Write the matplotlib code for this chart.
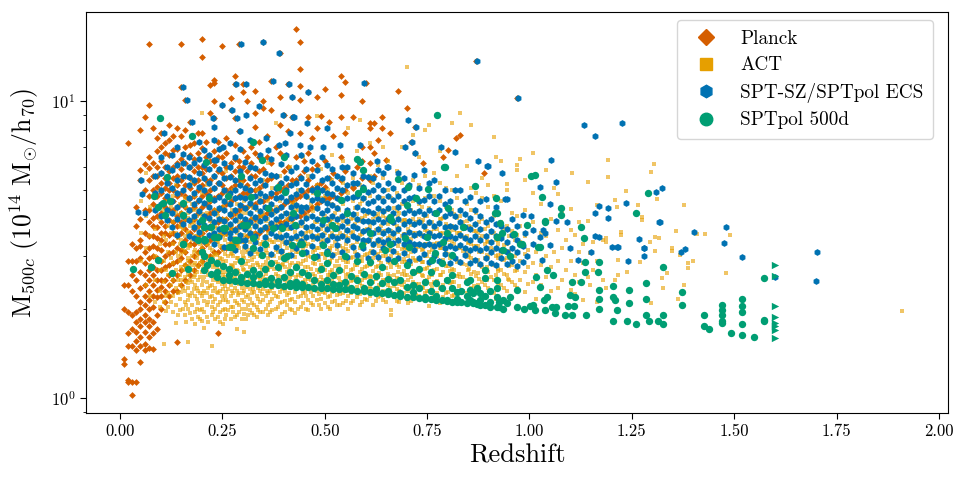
import numpy as np
import matplotlib
matplotlib.use("Agg")
import matplotlib.pyplot as plt
from matplotlib.lines import Line2D
from matplotlib.ticker import NullFormatter

plt.rcParams["font.family"] = "serif"
plt.rcParams["font.serif"] = ["cmr10"]
plt.rcParams["mathtext.fontset"] = "cm"
plt.rcParams["axes.unicode_minus"] = False
plt.rcParams["axes.formatter.use_mathtext"] = True

# =====================================
# Data: (redshift, [M500c values])
# =====================================

planck_cols = [
    (0.01, [1.3, 1.35, 2.0, 2.4]),
    (0.02, [1.13, 1.15, 1.5, 1.65, 1.95, 2.4, 2.9, 7.2]),
    (0.03, [1.02, 1.13, 1.5, 1.7, 1.9, 2.3, 2.6, 2.9, 3.3]),
    (0.04, [1.13, 1.45, 1.55, 1.67, 1.8, 1.95, 2.2, 2.5, 2.9, 3.2, 3.8, 4.4]),
    (0.05, [1.32, 1.5, 1.6, 1.75, 1.85, 2.0, 2.1, 2.35, 2.65, 2.95, 3.25, 3.4, 4.0, 5.4, 5.85, 8.0]),
    (0.06, [1.45, 1.52, 1.67, 1.8, 1.9, 2.05, 2.2, 2.4, 2.6, 2.85, 3.1, 3.6, 4.3, 5.0, 6.15, 8.8]),
    (0.07, [1.47, 1.6, 1.74, 1.85, 2.0, 2.14, 2.3, 2.5, 2.7, 2.95, 3.2, 3.5, 3.9, 4.3, 4.8, 5.4, 5.93, 6.5, 9.7, 15.5]),
    (0.08, [1.46, 1.65, 1.8, 2.03, 2.2, 2.4, 2.6, 2.77, 3.0, 3.25, 3.5, 3.8, 4.02, 4.5, 5.0, 5.6, 6.2, 8.1]),
    (0.09, [1.7, 1.9, 2.19, 2.31, 2.5, 2.7, 2.95, 3.2, 3.45, 3.77, 4.1, 4.4, 4.8, 5.15, 5.6, 6.0, 6.8, 7.5]),
    (0.10, [2.0, 2.2, 2.37, 2.49, 2.7, 2.9, 3.15, 3.4, 3.6, 3.9, 4.18, 4.5, 4.9, 5.3, 5.7, 6.3, 7.0, 7.8]),
    (0.11, [2.1, 2.3, 2.5, 2.77, 3.0, 3.3, 3.6, 3.8, 4.1, 4.4, 4.7, 5.1, 5.5, 6.0, 6.7, 7.2]),
    (0.12, [2.2, 2.4, 2.6, 2.8, 3.07, 3.3, 3.55, 3.97, 4.3, 4.6, 5.0, 5.28, 5.8, 6.6, 7.4, 8.3]),
    (0.13, [2.3, 2.5, 2.84, 3.1, 3.36, 3.6, 3.9, 4.3, 4.6, 5.0, 5.5, 6.0, 6.85, 7.6]),
    (0.14, [1.54, 2.3, 2.6, 2.9, 3.2, 3.5, 3.8, 4.1, 4.4, 4.8, 5.2, 5.6, 6.2, 6.9, 8.1]),
    (0.15, [2.4, 2.7, 2.95, 3.15, 3.59, 3.9, 4.18, 4.5, 4.9, 5.4, 5.9, 6.4, 7.6, 11.1, 15.5]),
    (0.16, [2.5, 2.8, 3.1, 3.4, 3.7, 4.0, 4.4, 4.8, 5.2, 5.6, 6.2, 7.0, 8.0, 10.1]),
    (0.17, [2.6, 2.9, 3.31, 3.6, 3.93, 4.3, 4.7, 5.1, 5.5, 6.0, 6.6, 7.1, 8.5]),
    (0.18, [2.7, 3.0, 3.3, 3.7, 4.0, 4.4, 4.8, 5.28, 5.8, 6.4, 7.2]),
    (0.19, [2.8, 3.1, 3.5, 3.8, 4.2, 4.6, 5.0, 5.4, 6.0, 6.7, 7.8]),
    (0.20, [2.9, 3.2, 3.6, 4.0, 4.4, 4.8, 5.2, 5.7, 6.0, 6.96, 7.8, 14.1, 16.2]),
    (0.21, [3.0, 3.3, 3.7, 4.1, 4.5, 4.9, 5.4, 5.9, 6.5, 7.3]),
    (0.22, [3.0, 3.4, 3.8, 4.2, 4.6, 5.0, 5.4, 6.3, 9.1, 11.3]),
    (0.23, [3.1, 3.5, 3.9, 4.3, 4.7, 5.1, 5.6, 6.1, 6.8, 8.76, 9.96, 11.5, 11.8]),
    (0.24, [1.66, 3.1, 3.5, 3.9, 4.3, 4.8, 5.3, 5.8, 6.5, 7.3]),
    (0.25, [3.2, 3.6, 4.0, 4.4, 4.9, 5.2, 5.7, 6.5, 7.0, 9.7, 15.3]),
    (0.26, [3.2, 3.6, 4.0, 4.5, 5.0, 5.5, 6.0, 6.7, 7.5]),
    (0.27, [3.3, 3.7, 4.1, 4.6, 5.1, 5.6, 6.2, 9.3, 10.2]),
    (0.28, [3.3, 3.7, 4.2, 4.7, 5.2, 5.8, 6.4, 7.1, 8.76, 11.4, 12.1]),
    (0.29, [3.4, 3.8, 4.3, 4.8, 5.4, 6.0, 6.3, 7.9, 15.5]),
    (0.30, [3.4, 3.9, 4.4, 4.9, 5.4, 6.0, 6.8, 10.7, 11.4]),
    (0.31, [3.5, 3.9, 4.4, 4.9, 5.2, 5.8, 6.5, 9.96]),
    (0.32, [3.5, 4.0, 4.5, 5.0, 5.6, 6.2, 7.0]),
    (0.33, [3.6, 4.0, 4.5, 5.0, 5.6, 6.7, 8.18, 9.1, 10.8]),
    (0.34, [3.6, 4.1, 4.6, 5.1, 5.8, 6.5, 7.3]),
    (0.35, [3.7, 4.1, 4.6, 5.2, 5.9, 9.5, 9.96, 15.8]),
    (0.36, [3.7, 4.2, 4.7, 5.4, 6.5, 7.6]),
    (0.37, [3.8, 4.3, 4.8, 5.5, 6.2, 9.3, 11.7]),
    (0.38, [3.8, 4.3, 4.9, 5.6, 7.0]),
    (0.39, [3.9, 4.4, 5.0, 5.28, 6.7, 8.3, 10.3, 14.5]),
    (0.40, [3.9, 4.5, 5.1, 5.8, 8.97]),
    (0.41, [4.0, 4.6, 5.2, 6.0, 7.9, 11.4]),
    (0.42, [4.0, 4.6, 5.4, 8.84, 10.3]),
    (0.43, [4.1, 4.7, 5.4, 6.5, 17.4]),
    (0.44, [4.1, 4.8, 5.6, 7.8, 10.1, 11.2, 12.8, 15.8]),
    (0.45, [4.2, 4.9, 5.8, 6.3]),
    (0.46, [4.3, 5.0, 5.4, 6.7, 8.84, 10.7]),
    (0.47, [4.4, 5.1, 5.9, 7.5]),
    (0.48, [4.5, 5.2, 6.1, 8.1, 10.3]),
    (0.49, [4.6, 5.3, 8.88]),
    (0.50, [4.7, 5.15, 6.3, 11.0]),
    (0.51, [4.7, 5.5, 8.5]),
    (0.52, [4.8, 5.7, 7.6]),
    (0.54, [4.9, 5.4, 6.5, 8.84, 10.5, 12.1]),
    (0.55, [5.0, 5.8, 7.8, 11.6]),
    (0.57, [5.1, 5.15, 8.84]),
    (0.58, [5.3, 6.0]),
    (0.59, [5.5, 6.3, 7.0, 10.0]),
    (0.60, [11.5]),
    (0.61, [5.4, 6.2, 7.0, 8.1, 8.4]),
    (0.62, [5.6, 6.7, 8.45]),
    (0.63, [7.4]),
    (0.64, [8.84, 8.09]),
    (0.65, [6.32]),
    (0.66, [7.8]),
    (0.68, [10.8]),
    (0.70, [9.5]),
    (0.71, [7.25]),
    (0.72, [8.18, 6.68]),
    (0.74, [6.17]),
    (0.79, [6.5]),
    (0.80, [6.86]),
    (0.82, [7.5]),
    (0.83, [7.66]),
    (0.87, [13.6]),
    (0.89, [5.7]),
    (0.97, [10.2]),
]

act_cols = [
    (0.052, [2.9, 3.6, 4.6]),
    (0.063, [2.4, 3.2, 4.1, 5.7]),
    (0.074, [2.2, 2.8, 3.5, 4.4]),
    (0.086, [2.1, 2.5, 3.0, 3.7, 4.7]),
    (0.098, [2.03, 2.3, 2.7, 3.3, 4.0, 5.0]),
    (0.107, [1.52, 2.1, 2.45, 2.9, 3.5, 4.3]),
    (0.118, [2.03, 2.25, 2.6, 3.1, 3.8, 4.6, 5.5]),
    (0.129, [1.95, 2.2, 2.5, 2.85, 3.3, 3.9, 4.8]),
    (0.137, [1.79, 2.05, 2.35, 2.7, 3.1, 3.6, 4.2, 5.2]),
    (0.147, [1.98, 2.15, 2.4, 2.6, 2.9, 3.3, 3.8, 4.5]),
    (0.158, [1.9, 2.1, 2.3, 2.55, 2.8, 3.1, 3.5, 4.0, 4.7, 5.6]),
    (0.167, [1.54, 2.0, 2.14, 2.35, 2.6, 2.9, 3.2, 3.6, 4.2]),
    (0.176, [1.85, 2.05, 2.25, 2.45, 2.7, 3.0, 3.4, 3.9, 4.5, 5.3]),
    (0.183, [1.77, 1.95, 2.2, 2.4, 2.6, 2.85, 3.15, 3.5, 4.0, 4.8]),
    (0.191, [1.88, 2.08, 2.3, 2.5, 2.75, 3.05, 3.35, 3.75, 4.3]),
    (0.200, [1.82, 2.0, 2.2, 2.4, 2.65, 2.9, 3.2, 3.6, 4.1, 4.9, 9.1]),
    (0.206, [1.72, 1.95, 2.12, 2.3, 2.55, 2.8, 3.1, 3.45, 3.9, 4.5]),
    (0.212, [1.88, 2.05, 2.25, 2.45, 2.7, 3.0, 3.3, 3.7, 4.2, 5.2]),
    (0.224, [1.5, 1.9, 2.03, 2.2, 2.4, 2.6, 2.85, 3.15, 3.5, 3.95, 4.6]),
    (0.233, [1.85, 2.0, 2.15, 2.35, 2.55, 2.8, 3.05, 3.4, 3.8, 4.3, 5.5]),
    (0.245, [1.8, 1.95, 2.1, 2.3, 2.5, 2.7, 2.95, 3.25, 3.6, 4.0, 4.7]),
    (0.252, [1.78, 1.98, 2.14, 2.33, 2.6, 2.88, 3.15, 3.5, 3.9, 4.4]),
    (0.260, [1.9, 2.14, 2.28, 2.45, 2.65, 2.9, 3.2, 3.55, 4.0, 4.6, 5.8]),
    (0.270, [1.85, 2.03, 2.2, 2.4, 2.6, 2.8, 3.05, 3.35, 3.7, 4.1, 4.8]),
    (0.277, [1.95, 2.03, 2.25, 2.5, 2.75, 3.0, 3.3, 3.65, 4.2, 5.0]),
    (0.285, [1.71, 1.9, 2.08, 2.3, 2.5, 2.7, 2.95, 3.25, 3.6, 4.0, 4.5]),
    (0.297, [1.84, 2.0, 2.14, 2.35, 2.55, 2.8, 3.1, 3.4, 3.75, 4.2, 5.3]),
    (0.304, [1.67, 1.92, 2.1, 2.3, 2.5, 2.7, 2.95, 3.2, 3.55, 3.95, 4.6]),
    (0.313, [1.9, 2.05, 2.22, 2.42, 2.65, 2.9, 3.15, 3.5, 3.9, 4.4, 5.1]),
    (0.322, [1.93, 2.08, 2.25, 2.45, 2.68, 2.92, 3.2, 3.55, 4.0, 4.8, 6.0]),
    (0.334, [1.88, 2.02, 2.2, 2.4, 2.6, 2.85, 3.1, 3.4, 3.8, 4.3, 5.0]),
    (0.343, [1.95, 2.1, 2.3, 2.5, 2.75, 3.0, 3.3, 3.65, 4.1, 4.7]),
    (0.350, [1.95, 2.14, 2.32, 2.55, 2.8, 3.05, 3.35, 3.7, 4.2, 5.4]),
    (0.361, [1.9, 2.06, 2.25, 2.45, 2.7, 2.95, 3.25, 3.6, 4.0, 4.6, 6.2]),
    (0.372, [1.98, 2.15, 2.35, 2.55, 2.8, 3.05, 3.35, 3.75, 4.2, 5.1]),
    (0.380, [2.0, 2.2, 2.4, 2.62, 2.88, 3.15, 3.45, 3.85, 4.4, 8.45]),
    (0.391, [1.88, 2.08, 2.28, 2.48, 2.7, 2.95, 3.25, 3.6, 4.0, 4.6, 5.6]),
    (0.402, [1.95, 2.12, 2.3, 2.5, 2.75, 3.0, 3.3, 3.7, 4.2, 4.9]),
    (0.415, [2.0, 2.14, 2.35, 2.55, 2.8, 3.05, 3.35, 3.7, 4.1, 4.7, 6.0]),
    (0.427, [1.93, 2.1, 2.28, 2.48, 2.72, 2.98, 3.28, 3.62, 4.05, 4.55, 5.3]),
    (0.436, [2.0, 2.18, 2.4, 2.6, 2.85, 3.1, 3.4, 3.8, 4.3, 5.0]),
    (0.448, [2.08, 2.25, 2.45, 2.65, 2.9, 3.2, 3.5, 3.9, 4.4, 6.45]),
    (0.460, [1.98, 2.14, 2.32, 2.52, 2.75, 3.0, 3.3, 3.65, 4.1, 4.7, 5.6]),
    (0.472, [2.05, 2.2, 2.4, 2.62, 2.85, 3.1, 3.4, 3.8, 4.25, 4.9]),
    (0.480, [2.14, 2.3, 2.5, 2.7, 2.95, 3.2, 3.5, 3.9, 4.4, 5.2, 8.88]),
    (0.492, [2.0, 2.16, 2.35, 2.55, 2.8, 3.05, 3.35, 3.7, 4.15, 4.7, 5.9]),
    (0.509, [2.03, 2.18, 2.38, 2.6, 2.85, 3.1, 3.4, 3.8, 4.3, 5.0]),
    (0.518, [2.1, 2.28, 2.48, 2.7, 2.95, 3.25, 3.6, 4.0, 4.5, 5.4, 6.6]),
    (0.530, [2.05, 2.22, 2.42, 2.64, 2.9, 3.18, 3.5, 3.9, 4.4, 5.0]),
    (0.545, [2.08, 2.25, 2.45, 2.68, 2.92, 3.2, 3.55, 3.95, 4.5, 5.3, 6.3]),
    (0.558, [2.0, 2.2, 2.4, 2.62, 2.86, 3.12, 3.45, 3.85, 4.3, 4.9, 8.12]),
    (0.570, [2.12, 2.3, 2.5, 2.72, 2.98, 3.28, 3.62, 4.05, 4.6, 5.5]),
    (0.578, [2.19, 2.36, 2.56, 2.8, 3.05, 3.35, 3.7, 4.15, 4.8, 6.8]),
    (0.586, [2.06, 2.24, 2.44, 2.66, 2.9, 3.2, 3.55, 3.95, 4.5, 5.2, 8.6]),
    (0.598, [2.15, 2.33, 2.53, 2.76, 3.02, 3.32, 3.68, 4.1, 4.7, 5.8]),
    (0.610, [2.2, 2.38, 2.58, 2.8, 3.08, 3.4, 3.75, 4.2, 4.8, 5.6, 7.2]),
    (0.619, [2.06, 2.25, 2.45, 2.68, 2.95, 3.25, 3.6, 4.0, 4.6, 5.3]),
    (0.631, [2.18, 2.35, 2.55, 2.78, 3.05, 3.35, 3.7, 4.15, 4.75, 6.1]),
    (0.643, [2.14, 2.3, 2.5, 2.74, 3.0, 3.3, 3.65, 4.1, 4.7, 5.5, 7.0]),
    (0.655, [2.2, 2.4, 2.62, 2.86, 3.14, 3.45, 3.85, 4.3, 5.0, 6.3]),
    (0.663, [1.9, 1.98, 2.25, 2.5, 2.75, 3.0, 3.3, 3.65, 4.1, 4.7]),
    (0.676, [2.12, 2.32, 2.54, 2.8, 3.08, 3.4, 3.8, 4.25, 4.9, 5.8]),
    (0.688, [2.2, 2.4, 2.62, 2.88, 3.18, 3.52, 3.95, 4.5, 5.3, 7.0]),
    (0.700, [2.15, 2.36, 2.6, 2.86, 3.15, 3.5, 3.9, 4.4, 5.1, 13.0]),
    (0.704, [2.08, 2.3, 2.5, 2.75, 3.0, 3.3, 3.7]),
    (0.716, [2.25, 2.45, 2.68, 2.95, 3.25, 3.6, 4.0, 4.6, 5.4, 7.66]),
    (0.731, [2.2, 2.42, 2.66, 2.92, 3.22, 3.58, 4.0, 4.5, 5.2, 6.5]),
    (0.745, [2.25, 2.48, 2.72, 3.0, 3.3, 3.68, 4.1, 4.7, 5.6, 7.97]),
    (0.755, [2.04, 2.3, 2.55, 2.8, 3.1, 3.45, 3.85, 4.35, 5.0, 8.29]),
    (0.768, [2.2, 2.45, 2.7, 2.98, 3.3, 3.7, 4.15, 4.8, 5.7]),
    (0.781, [2.08, 2.35, 2.6, 2.88, 3.2, 3.6, 4.0, 4.6, 5.3, 6.8]),
    (0.795, [2.25, 2.5, 2.78, 3.1, 3.45, 3.85, 4.4, 5.1]),
    (0.810, [2.2, 2.45, 2.72, 3.02, 3.38, 3.8, 4.3, 5.0, 8.4]),
    (0.822, [2.3, 2.58, 2.88, 3.2, 3.6, 4.05, 4.7, 5.6]),
    (0.830, [2.28, 2.55, 2.85, 3.2, 3.6, 4.1, 9.13]),
    (0.847, [2.25, 2.5, 2.8, 3.12, 3.5, 3.95, 4.5, 6.05]),
    (0.857, [2.35, 2.62, 2.95, 3.3, 3.75, 4.3, 5.1, 8.28]),
    (0.870, [2.3, 2.58, 2.9, 3.25, 3.65, 4.2, 4.9]),
    (0.885, [2.2, 2.45, 2.75, 3.1, 3.5, 4.0, 4.7, 5.5]),
    (0.898, [2.35, 2.65, 2.98, 3.35, 3.8, 4.4, 5.2]),
    (0.913, [2.25, 2.5, 2.8, 3.15, 3.6, 4.1, 4.8, 7.55]),
    (0.918, [2.16, 2.6, 3.0, 3.4, 6.5]),
    (0.930, [2.4, 2.7, 3.05, 3.45, 3.9, 4.6, 6.3]),
    (0.944, [2.3, 2.6, 2.95, 3.3, 3.8, 5.02, 5.25]),
    (0.958, [2.45, 2.8, 3.2, 3.65, 4.2]),
    (0.969, [2.35, 2.7, 3.1, 3.55, 4.1, 5.85, 6.09]),
    (0.978, [2.5, 2.9, 3.35, 3.8, 6.36]),
    (0.989, [2.28, 2.65, 3.05, 3.5, 4.3, 5.43]),
    (1.009, [2.45, 2.85, 3.3, 3.9, 4.89, 6.7]),
    (1.017, [2.16, 2.6, 3.1]),
    (1.028, [2.4, 2.8, 3.6, 4.5]),
    (1.040, [2.55, 3.0, 3.5, 5.85]),
    (1.052, [2.3, 2.75, 3.25, 4.0]),
    (1.060, [2.6, 3.1, 5.08]),
    (1.070, [2.35, 2.9, 3.68, 4.86]),
    (1.080, [2.5, 3.2, 4.2]),
    (1.090, [2.7, 3.4]),
    (1.101, [2.31, 2.9, 3.68, 4.34]),
    (1.104, [5.74]),
    (1.111, [2.23, 2.6, 3.53]),
    (1.120, [2.45, 3.1, 3.9]),
    (1.131, [2.14, 2.84, 3.31]),
    (1.142, [2.55, 3.93, 5.32]),
    (1.148, [2.4, 3.07]),
    (1.154, [2.7, 3.34]),
    (1.164, [2.11, 2.9, 4.46]),
    (1.180, [2.5, 3.4]),
    (1.188, [2.35, 3.36, 3.45]),
    (1.191, [6.32]),
    (1.193, [5.56]),
    (1.209, [2.49, 4.64]),
    (1.214, [4.41]),
    (1.217, [2.59, 2.92]),
    (1.223, [3.55, 3.63]),
    (1.235, [4.98]),
    (1.237, [2.66]),
    (1.266, [4.46]),
    (1.270, [2.88]),
    (1.275, [3.97, 4.06]),
    (1.294, [3.36]),
    (1.296, [2.08, 5.77]),
    (1.305, [6.13]),
    (1.306, [3.12]),
    (1.307, [3.49]),
    (1.312, [4.68]),
    (1.317, [3.45]),
    (1.323, [2.53]),
    (1.325, [2.34]),
    (1.337, [2.63]),
    (1.348, [3.12, 3.19]),
    (1.357, [3.65]),
    (1.363, [2.16]),
    (1.367, [3.03]),
    (1.377, [2.4, 4.48]),
    (1.388, [2.73, 2.84]),
    (1.400, [2.89]),
    (1.408, [3.57]),
    (1.429, [3.57]),
    (1.481, [2.63]),
    (1.490, [3.55]),
    (1.910, [1.96]),
]

# second and third passes over the dense ACT core, between the columns above
act_fill_cols = [
    (0.112, [1.96, 2.2, 2.7, 3.4]),
    (0.124, [2.1, 2.4, 2.95, 3.6, 4.4]),
    (0.142, [1.9, 2.25, 2.5, 3.0, 3.45, 4.0]),
    (0.153, [2.0, 2.35, 2.7, 3.2, 3.7]),
    (0.162, [1.8, 2.05, 2.45, 2.75, 3.3, 4.4]),
    (0.172, [1.93, 2.2, 2.5, 2.8, 3.25, 3.8]),
    (0.187, [2.0, 2.15, 2.35, 2.65, 2.95, 3.5, 4.1]),
    (0.196, [1.84, 1.98, 2.25, 2.55, 2.85, 3.3, 3.9]),
    (0.216, [1.8, 2.1, 2.35, 2.6, 2.9, 3.3, 4.0]),
    (0.228, [1.95, 2.1, 2.3, 2.5, 2.75, 3.0, 3.6]),
    (0.239, [1.88, 2.05, 2.25, 2.45, 2.65, 2.9, 3.35, 4.1]),
    (0.257, [1.85, 2.0, 2.2, 2.38, 2.55, 2.78, 3.05, 3.4]),
    (0.265, [1.98, 2.1, 2.32, 2.52, 2.72, 3.0, 3.3, 3.8]),
    (0.281, [1.88, 2.12, 2.35, 2.55, 2.85, 3.15, 3.45]),
    (0.291, [1.95, 2.05, 2.25, 2.42, 2.62, 2.9, 3.2, 3.9]),
    (0.308, [1.85, 2.0, 2.18, 2.36, 2.58, 2.82, 3.1, 3.45, 4.2]),
    (0.318, [1.97, 2.15, 2.32, 2.52, 2.76, 3.0, 3.35, 3.7]),
    (0.328, [1.9, 2.05, 2.28, 2.5, 2.72, 2.98, 3.25, 3.6, 4.4]),
    (0.338, [1.98, 2.15, 2.35, 2.55, 2.8, 3.05, 3.45, 3.9]),
    (0.356, [2.0, 2.2, 2.4, 2.62, 2.86, 3.15, 3.5, 3.95]),
    (0.366, [1.95, 2.1, 2.3, 2.52, 2.76, 3.0, 3.4, 3.85]),
    (0.386, [2.02, 2.18, 2.38, 2.58, 2.82, 3.1, 3.4, 3.8, 4.3]),
    (0.396, [1.92, 2.1, 2.32, 2.55, 2.8, 3.05, 3.35, 3.75]),
    (0.409, [2.05, 2.22, 2.42, 2.65, 2.9, 3.2, 3.55, 4.0]),
    (0.421, [1.98, 2.16, 2.38, 2.6, 2.85, 3.15, 3.45, 3.9, 4.5]),
    (0.442, [2.02, 2.2, 2.38, 2.58, 2.82, 3.08, 3.4, 3.8, 4.2]),
    (0.454, [2.0, 2.2, 2.42, 2.65, 2.92, 3.25, 3.6, 4.0]),
    (0.466, [2.08, 2.28, 2.5, 2.72, 2.98, 3.28, 3.62, 4.5]),
    (0.486, [2.05, 2.24, 2.45, 2.66, 2.92, 3.2, 3.55, 4.0]),
    (0.500, [2.08, 2.26, 2.46, 2.7, 2.96, 3.25, 3.6, 4.1, 4.8]),
    (0.513, [2.0, 2.2, 2.42, 2.65, 2.9, 3.2, 3.5, 3.95]),
    (0.524, [2.12, 2.32, 2.55, 2.78, 3.05, 3.35, 3.72, 4.2]),
    (0.537, [2.05, 2.24, 2.45, 2.7, 2.96, 3.25, 3.6, 4.05, 4.7]),
    (0.551, [2.12, 2.3, 2.52, 2.75, 3.0, 3.3, 3.65, 4.1]),
    (0.564, [2.08, 2.26, 2.48, 2.7, 2.95, 3.25, 3.6, 4.0]),
    (0.592, [2.1, 2.28, 2.5, 2.72, 2.98, 3.28, 3.62, 4.05, 4.6]),
    (0.604, [2.14, 2.32, 2.55, 2.78, 3.05, 3.35, 3.7, 4.15]),
    (0.625, [2.12, 2.3, 2.52, 2.75, 3.02, 3.32, 3.68, 4.1]),
    (0.637, [2.2, 2.4, 2.6, 2.84, 3.12, 3.42, 3.8, 4.3]),
    (0.649, [2.1, 2.28, 2.5, 2.74, 3.0, 3.3, 3.65, 4.05]),
    (0.669, [2.18, 2.38, 2.6, 2.85, 3.12, 3.45, 3.85, 4.35]),
    (0.682, [2.1, 2.3, 2.52, 2.76, 3.04, 3.35, 3.72, 4.2]),
    (0.694, [2.25, 2.45, 2.68, 2.94, 3.22, 3.56, 3.98]),
    (0.710, [2.12, 2.34, 2.56, 2.82, 3.1, 3.42, 3.82, 4.3]),
    (0.724, [2.22, 2.42, 2.65, 2.9, 3.18, 3.52, 3.92]),
    (0.738, [2.15, 2.36, 2.6, 2.86, 3.15, 3.5, 3.9, 4.4]),
    (0.750, [2.3, 2.5, 2.74, 3.0, 3.3, 3.66, 4.1]),
    (0.762, [2.12, 2.35, 2.6, 2.86, 3.16, 3.5, 3.92]),
    (0.775, [2.25, 2.48, 2.72, 3.0, 3.32, 3.7, 4.2]),
    (0.788, [2.18, 2.4, 2.65, 2.92, 3.24, 3.6, 4.05]),
    (0.802, [2.28, 2.52, 2.78, 3.06, 3.4, 3.8]),
    (0.816, [2.22, 2.45, 2.7, 2.98, 3.3, 3.68, 4.15]),
    (0.838, [2.3, 2.55, 2.82, 3.12, 3.48, 3.9]),
    (0.852, [2.22, 2.45, 2.72, 3.02, 3.36, 3.78]),
    (0.864, [2.38, 2.65, 2.92, 3.25, 3.65]),
    (0.878, [2.28, 2.52, 2.8, 3.1, 3.45, 3.9]),
    (0.892, [2.4, 2.66, 2.95, 3.3, 3.7]),
    (0.906, [2.3, 2.55, 2.85, 3.2, 3.6]),
    (0.924, [2.45, 2.72, 3.02, 3.4]),
    (0.937, [2.35, 2.62, 2.92, 3.28, 3.7]),
    (0.951, [2.5, 2.78, 3.1, 3.5]),
    (0.964, [2.4, 2.68, 3.0, 3.4]),
    (0.996, [2.42, 2.75, 3.15]),
    (0.150, [2.28, 2.5, 2.75, 3.05, 3.4, 3.75, 4.2]),
    (0.165, [2.22, 2.44, 2.68, 2.96, 3.28, 3.62, 4.05, 4.6]),
    (0.180, [2.32, 2.55, 2.8, 3.1, 3.45, 3.85, 4.3]),
    (0.203, [2.26, 2.48, 2.72, 3.0, 3.32, 3.7, 4.15]),
    (0.219, [2.18, 2.38, 2.62, 2.9, 3.2, 3.55, 3.95, 4.4]),
    (0.236, [2.28, 2.5, 2.74, 3.02, 3.35, 3.72, 4.2]),
    (0.249, [2.2, 2.42, 2.66, 2.94, 3.25, 3.6, 4.0]),
    (0.273, [2.3, 2.52, 2.78, 3.08, 3.42, 3.8, 4.3]),
    (0.288, [2.22, 2.44, 2.68, 2.96, 3.3, 3.68, 4.1]),
    (0.300, [2.26, 2.48, 2.72, 3.0, 3.35, 3.72]),
    (0.325, [2.32, 2.55, 2.8, 3.1, 3.45, 3.85, 4.35]),
    (0.346, [2.24, 2.46, 2.7, 2.98, 3.3, 3.68, 4.1]),
    (0.358, [2.3, 2.52, 2.78, 3.08, 3.42, 3.8]),
    (0.376, [2.26, 2.48, 2.72, 3.0, 3.34, 3.72, 4.2]),
    (0.398, [2.34, 2.56, 2.82, 3.12, 3.46, 3.86]),
    (0.412, [2.25, 2.47, 2.72, 3.0, 3.33, 3.7, 4.15]),
    (0.431, [2.32, 2.55, 2.8, 3.1, 3.44, 3.84, 4.3]),
    (0.451, [2.28, 2.5, 2.75, 3.04, 3.38, 3.76]),
    (0.476, [2.34, 2.57, 2.83, 3.14, 3.48, 3.9, 4.35]),
    (0.497, [2.28, 2.5, 2.76, 3.05, 3.4, 3.8]),
    (0.514, [2.36, 2.6, 2.86, 3.16, 3.52, 3.92]),
    (0.534, [2.3, 2.53, 2.79, 3.08, 3.43, 3.82, 4.3]),
    (0.553, [2.36, 2.6, 2.86, 3.17, 3.52, 3.94]),
    (0.574, [2.3, 2.54, 2.8, 3.1, 3.45, 3.85, 4.35]),
    (0.590, [2.38, 2.62, 2.9, 3.2, 3.56, 3.98]),
    (0.614, [2.32, 2.56, 2.82, 3.12, 3.48, 3.88]),
    (0.633, [2.4, 2.64, 2.92, 3.24, 3.6, 4.02]),
    (0.659, [2.34, 2.58, 2.85, 3.16, 3.52, 3.92]),
    (0.679, [2.42, 2.66, 2.94, 3.26, 3.62, 4.06]),
    (0.697, [2.36, 2.6, 2.88, 3.2, 3.56, 3.98]),
    (0.720, [2.4, 2.64, 2.92, 3.24, 3.6]),
    (0.741, [2.34, 2.58, 2.86, 3.18, 3.54, 3.96]),
    (0.760, [2.42, 2.66, 2.94, 3.26, 3.62]),
    (0.783, [2.36, 2.6, 2.88, 3.2, 3.56, 4.0]),
    (0.806, [2.44, 2.68, 2.96, 3.28, 3.66]),
    (0.827, [2.38, 2.62, 2.9, 3.22, 3.58]),
    (0.850, [2.46, 2.7, 2.98, 3.32]),
    (0.874, [2.4, 2.64, 2.92, 3.24, 3.6]),
    (0.897, [2.5, 2.75, 3.04, 3.38]),
    (0.922, [2.44, 2.68, 2.96, 3.3]),
    (0.948, [2.52, 2.8, 3.12]),
]

spt_cols = [
    (0.085, [4.3, 4.9, 5.6]),
    (0.100, [4.1, 4.5, 5.0, 5.7, 6.5]),
    (0.115, [3.97, 4.3, 4.8, 5.3, 6.0]),
    (0.128, [3.75, 4.2, 4.6, 5.1, 5.85, 6.6]),
    (0.140, [3.55, 4.0, 4.4, 4.9, 5.4, 6.1, 7.0]),
    (0.155, [3.85, 4.1, 4.5, 5.0, 5.6, 6.2, 6.65]),
    (0.168, [3.5, 3.97, 4.3, 4.7, 5.2, 5.56, 6.0, 6.5]),
    (0.180, [3.45, 3.77, 4.1, 4.5, 4.9, 5.4, 6.2]),
    (0.193, [3.62, 3.9, 4.25, 4.64, 5.15, 5.7, 6.4, 7.3]),
    (0.205, [3.38, 3.82, 4.1, 4.52, 5.0, 5.5, 6.1, 6.85]),
    (0.218, [3.55, 3.75, 4.05, 4.4, 4.8, 5.28, 5.9, 6.6]),
    (0.230, [3.3, 3.59, 3.9, 4.2, 4.64, 5.1, 5.6, 6.35, 7.4]),
    (0.243, [3.48, 3.7, 4.0, 4.35, 4.75, 5.28, 5.9, 6.9]),
    (0.255, [3.22, 3.65, 3.95, 4.3, 4.6, 5.0, 5.5, 6.2]),
    (0.268, [3.45, 3.6, 3.85, 4.15, 4.5, 4.9, 5.56, 6.0, 7.2]),
    (0.280, [3.15, 3.68, 3.97, 4.3, 4.7, 5.0, 5.4, 6.5]),
    (0.293, [3.4, 3.55, 3.8, 4.1, 4.45, 4.76, 5.2, 5.8, 6.9]),
    (0.305, [3.25, 3.4, 3.7, 4.0, 4.35, 4.7, 5.1, 6.25]),
    (0.318, [3.08, 3.6, 3.9, 4.2, 4.55, 5.0, 5.5, 6.0, 7.4]),
    (0.330, [3.36, 3.5, 3.8, 4.08, 4.4, 4.8, 5.3, 5.93]),
    (0.343, [3.18, 3.68, 3.95, 4.25, 4.6, 4.89, 5.4, 6.6]),
    (0.355, [3.3, 3.49, 3.75, 4.05, 4.4, 4.8, 5.2, 5.7]),
    (0.368, [3.05, 3.6, 3.87, 4.15, 4.5, 4.9, 5.63, 6.4]),
    (0.380, [3.22, 3.5, 3.75, 4.0, 4.3, 4.7, 5.1, 5.6]),
    (0.393, [3.12, 3.49, 3.8, 4.1, 4.4, 4.76, 5.3, 6.15]),
    (0.405, [3.35, 3.55, 3.85, 4.2, 4.6, 5.0, 5.5, 6.6]),
    (0.418, [3.02, 3.45, 3.75, 4.05, 4.4, 4.76, 5.2, 5.8]),
    (0.430, [3.2, 3.5, 3.8, 4.1, 4.45, 4.85, 5.3, 6.0]),
    (0.442, [3.38, 3.6, 3.9, 4.25, 4.4, 5.0, 5.5, 6.6]),
    (0.455, [3.1, 3.49, 3.75, 4.05, 4.4, 4.8, 5.25, 5.9]),
    (0.468, [3.25, 3.5, 3.8, 4.1, 4.64, 5.0, 5.6, 6.3]),
    (0.480, [3.0, 3.45, 3.7, 4.0, 4.35, 4.7, 5.1, 5.85]),
    (0.493, [3.3, 3.55, 3.85, 4.2, 4.64, 5.0, 5.4, 6.5]),
    (0.505, [3.12, 3.4, 3.7, 4.0, 4.3, 4.52, 4.9, 5.5, 6.07]),
    (0.518, [3.04, 3.5, 3.8, 4.1, 4.45, 4.85, 5.3, 5.9]),
    (0.530, [3.28, 3.45, 3.72, 4.0, 4.35, 4.7, 5.1, 5.6]),
    (0.543, [3.1, 3.5, 3.8, 4.1, 4.64, 5.0, 5.5, 6.0]),
    (0.555, [2.98, 3.4, 3.68, 3.95, 4.3, 4.7, 5.2, 6.0]),
    (0.568, [3.23, 3.5, 3.8, 4.15, 4.76, 5.3, 5.7]),
    (0.580, [3.02, 3.45, 3.72, 4.0, 4.4, 4.8, 5.3]),
    (0.593, [3.2, 3.4, 3.65, 3.95, 4.3, 4.7, 5.15, 5.6]),
    (0.605, [2.95, 3.4, 3.68, 3.95, 4.25, 4.52, 4.95, 5.56]),
    (0.618, [3.1, 3.31, 3.6, 3.9, 4.2, 4.6, 5.0, 5.5]),
    (0.630, [2.98, 3.4, 3.7, 4.0, 4.35, 4.76, 5.2, 5.85]),
    (0.643, [3.2, 3.35, 3.6, 3.9, 4.25, 4.6, 5.0, 5.7]),
    (0.655, [2.93, 3.4, 3.68, 4.0, 4.35, 4.8, 5.3, 6.0]),
    (0.668, [3.12, 3.33, 3.6, 3.9, 4.2, 4.64, 5.1]),
    (0.680, [2.96, 3.4, 3.7, 4.0, 4.4, 4.8, 5.7]),
    (0.693, [3.08, 3.3, 3.55, 3.85, 4.2, 4.6, 5.0, 5.5]),
    (0.705, [2.9, 3.35, 3.62, 3.95, 4.3, 4.7, 5.2]),
    (0.718, [3.14, 3.3, 3.55, 3.85, 4.2, 4.76, 5.63]),
    (0.730, [2.95, 3.3, 3.6, 3.9, 4.25, 4.6, 5.1]),
    (0.743, [3.05, 3.28, 3.5, 3.8, 4.15, 4.64, 5.85]),
    (0.755, [2.88, 3.3, 3.6, 3.9, 4.3, 4.8, 5.3]),
    (0.768, [3.0, 3.25, 3.5, 3.8, 4.2, 4.6, 5.4]),
    (0.780, [2.9, 3.3, 3.55, 3.88, 4.3, 4.8]),
    (0.793, [3.06, 3.2, 3.45, 3.75, 4.1, 4.5, 5.0]),
    (0.805, [2.85, 3.25, 3.5, 3.8, 4.2, 4.6]),
    (0.818, [2.95, 3.2, 3.45, 3.75, 4.1, 5.0]),
    (0.830, [2.87, 3.28, 3.55, 3.9, 4.3, 5.0]),
    (0.843, [3.02, 3.2, 3.45, 3.75, 4.15, 4.6]),
    (0.855, [2.84, 3.15, 3.4, 3.7, 4.05, 4.76]),
    (0.868, [2.92, 3.2, 3.5, 3.85, 4.3]),
    (0.880, [2.82, 3.15, 3.4, 3.7, 4.1, 4.6]),
    (0.893, [2.97, 3.2, 3.5, 3.9, 4.67]),
    (0.905, [2.85, 3.1, 3.35, 3.65, 4.0]),
    (0.918, [2.8, 3.2, 3.5, 3.85, 4.4]),
    (0.930, [2.95, 3.15, 3.45, 3.8]),
    (0.945, [2.83, 3.1, 3.35, 3.7, 4.69]),
    (0.958, [2.9, 3.2, 3.55, 4.0]),
    (0.970, [2.78, 3.1, 3.4, 3.8]),
    (0.985, [2.88, 3.25, 4.13]),
]

spt_extra = [
    (0.295, 15.5), (0.35, 15.8), (0.389, 14.5), (0.153, 11.1), (0.164, 10.1),
    (0.108, 7.8), (0.177, 8.5), (0.283, 11.4), (0.307, 11.4), (0.374, 11.7),
    (0.413, 11.4), (0.421, 10.3), (0.46, 10.7), (0.596, 11.5), (0.248, 9.7),
    (0.273, 9.3), (0.228, 8.76), (0.285, 8.76), (0.397, 8.97), (0.423, 8.84),
    (0.252, 7.0), (0.293, 7.9), (0.871, 13.6), (0.973, 10.2), (0.723, 8.18),
    (0.712, 7.25), (0.72, 6.68), (0.704, 8.6), (0.783, 7.0), (0.818, 6.74),
    (0.898, 6.04), (1.132, 8.29), (1.227, 8.45), (1.161, 7.6), (1.052, 6.33),
    (0.934, 5.74), (1.31, 4.92), (1.323, 5.08), (1.066, 5.35), (1.235, 4.52),
    (0.426, 8.84), (0.456, 8.4), (0.505, 8.1), (0.415, 7.8), (0.403, 7.2),
    (0.44, 7.1), (0.464, 7.0), (0.496, 7.0), (0.537, 7.1), (0.586, 7.1),
    (0.627, 6.3), (0.651, 6.0), (0.696, 7.0), (0.875, 6.3), (0.045, 4.24),
    (0.06, 4.2), (0.051, 5.4), (0.055, 4.86), (0.23, 8.18), (0.34, 9.6),
    (0.357, 7.5), (0.389, 7.1), (0.361, 6.85), (0.308, 8.97), (0.234, 6.35),
    (1.026, 5.13), (1.05, 4.5), (1.193, 4.37), (1.171, 4.43), (1.16, 4.18),
    (1.191, 4.02), (1.317, 3.91), (1.267, 3.42), (1.16, 3.51), (1.091, 3.9),
    (1.28, 3.2), (1.213, 3.23), (0.94, 4.69), (1.005, 4.1), (1.066, 3.93),
    (1.038, 3.59), (1.009, 3.68), (1.026, 3.49), (1.009, 3.3), (1.119, 2.92),
    (1.171, 3.49), (1.201, 3.23), (1.217, 3.23), (1.24, 2.89), (1.28, 3.0),
    (1.28, 3.19), (1.03, 2.92), (1.05, 3.27), (1.034, 3.68), (1.10, 3.2),
    (1.15, 3.1), (0.995, 3.0), (0.99, 3.6), (1.701, 3.09), (1.70, 2.48),
    (1.479, 3.77), (1.475, 3.33), (1.52, 2.99), (1.402, 3.61), (1.371, 3.09),
    (1.381, 3.17), (1.319, 3.91), (1.60, 2.56), (0.897, 6.04),
]

sptpol_cols = [
    (0.205, [2.7, 3.0, 3.42]),
    (0.222, [2.62, 2.92, 3.77]),
    (0.238, [2.55, 2.66, 2.85, 3.49]),
    (0.252, [2.5, 2.78, 3.73]),
    (0.266, [2.5, 2.59, 2.72, 3.23]),
    (0.280, [2.47, 2.65, 3.4]),
    (0.295, [2.45, 2.55, 2.9]),
    (0.310, [2.44, 2.62, 3.82]),
    (0.326, [2.43, 2.55, 2.7, 3.2]),
    (0.340, [2.42, 2.62]),
    (0.355, [2.41, 2.48, 2.72, 3.3]),
    (0.370, [2.4, 2.53, 2.85]),
    (0.385, [2.4, 2.47, 2.76]),
    (0.400, [2.39, 2.55, 2.95]),
    (0.415, [2.38, 2.43, 2.65]),
    (0.430, [2.37, 2.45, 2.75]),
    (0.445, [2.37, 2.42, 2.66, 3.31]),
    (0.460, [2.36, 2.6]),
    (0.475, [2.35, 2.49, 2.98]),
    (0.490, [2.35, 2.42, 2.72]),
    (0.505, [2.34, 2.5, 2.85]),
    (0.520, [2.33, 2.42, 2.6]),
    (0.535, [2.33, 2.4, 2.7]),
    (0.550, [2.32, 2.45, 3.0]),
    (0.565, [2.31, 2.34, 2.58]),
    (0.580, [2.3, 2.5, 2.9]),
    (0.595, [2.3, 2.34, 2.62]),
    (0.610, [2.27, 2.46, 2.88]),
    (0.625, [2.26, 2.32, 2.58]),
    (0.640, [2.25, 2.43, 2.75]),
    (0.655, [2.24, 2.3, 2.52]),
    (0.670, [2.22, 2.45, 2.9]),
    (0.685, [2.21, 2.25, 2.5]),
    (0.700, [2.19, 2.37, 2.8]),
    (0.715, [2.18, 2.27, 2.4]),
    (0.730, [2.17, 2.35, 2.72]),
    (0.745, [2.16, 2.19, 2.45]),
    (0.760, [2.15, 2.3, 2.66]),
    (0.773, [2.14, 2.2, 2.43]),
    (0.786, [2.13, 2.35, 2.84]),
    (0.798, [2.12, 2.14, 2.49]),
    (0.810, [2.11, 2.35, 2.6]),
    (0.822, [2.11, 2.16, 2.28]),
    (0.834, [2.1, 2.3]),
    (0.847, [2.09, 2.2, 2.46]),
    (0.855, [2.14, 2.31, 2.5]),
    (0.863, [2.08, 2.11, 2.25]),
    (0.871, [2.07, 2.09, 2.35]),
    (0.879, [2.06, 2.14, 2.25]),
    (0.891, [2.06, 2.2, 2.53, 2.7]),
    (0.903, [2.03, 2.1, 2.3]),
    (0.920, [2.03, 2.19, 2.34, 2.49]),
    (0.926, [2.03, 2.1]),
    (0.936, [2.0, 2.14]),
    (0.944, [2.08]),
    (0.952, [2.19, 3.0]),
    (0.969, [2.03, 2.31]),
    (0.987, [2.0]),
    (1.001, [2.04]),
    (1.008, [2.06]),
    (1.013, [1.98]),
    (1.017, [2.56]),
    (1.026, [2.37]),
    (1.035, [2.14]),
    (1.038, [1.98]),
    (1.042, [2.19, 2.7]),
    (1.054, [2.03]),
    (1.058, [2.59]),
    (1.062, [1.93]),
    (1.066, [2.03]),
    (1.087, [1.9]),
    (1.095, [2.04]),
    (1.099, [2.22]),
    (1.103, [1.9]),
    (1.104, [2.46]),
    (1.109, [2.04]),
    (1.111, [2.19]),
    (1.127, [2.45]),
    (1.135, [2.66, 2.88]),
    (1.138, [1.9]),
    (1.168, [2.66]),
    (1.169, [2.0, 2.15, 2.31, 2.88]),
    (1.205, [1.82, 2.19, 2.39]),
    (1.209, [2.14]),
    (1.213, [1.98]),
    (1.237, [1.81]),
    (1.244, [2.08, 2.31]),
    (1.259, [1.77]),
    (1.284, [1.9, 2.15, 2.43]),
    (1.293, [1.81]),
    (1.315, [1.81]),
    (1.327, [1.78, 1.9, 2.75]),
    (1.373, [2.05, 2.28]),
    (1.427, [1.75, 1.9]),
    (1.438, [1.71]),
    (1.469, [1.79, 1.81, 1.9, 1.98, 2.06]),
    (1.493, [1.65]),
    (1.520, [1.63, 1.77, 1.94, 2.04, 2.15]),
    (1.549, [1.6]),
    (1.573, [1.81, 1.83, 2.54]),
]

sptpol_extra = [
    (0.031, 2.72), (0.076, 2.77), (0.092, 2.92), (0.128, 2.63), (0.155, 3.29),
    (0.165, 2.72), (0.191, 3.4), (0.208, 3.4), (0.2, 3.11), (0.212, 2.8),
    (0.256, 3.73), (0.273, 3.23), (0.285, 3.4), (0.346, 3.03), (0.407, 3.0),
    (0.44, 3.31), (0.444, 3.07), (0.505, 3.07), (0.517, 3.82), (0.374, 3.73),
    (0.423, 4.18), (0.554, 4.18), (0.61, 3.59), (0.2, 3.97), (0.155, 4.13),
    (0.122, 4.6), (0.11, 4.13), (0.098, 8.76), (0.177, 7.6), (0.084, 4.79),
    (0.094, 4.39), (0.104, 4.52), (0.116, 5.53), (0.153, 4.52), (0.21, 6.25),
    (0.218, 4.7), (0.206, 3.77), (0.23, 3.49), (0.255, 3.73), (0.295, 5.6),
    (0.324, 7.3), (0.348, 6.33), (0.361, 4.35), (0.32, 4.76), (0.385, 5.15),
    (0.263, 4.79), (0.3, 3.82), (0.324, 3.45), (0.153, 3.31), (0.271, 3.23),
    (0.4, 6.5), (0.578, 6.4), (0.586, 6.25), (0.594, 5.85), (0.775, 9.0),
    (0.792, 6.0), (0.68, 5.44), (0.704, 5.12), (0.753, 5.05), (0.724, 4.7),
    (0.867, 5.17), (0.802, 4.35), (0.773, 4.18), (0.7, 4.46), (0.659, 4.08),
    (0.594, 5.05), (0.582, 4.89), (0.48, 4.89), (0.403, 4.95), (0.541, 4.64),
    (0.663, 3.97), (0.496, 3.97), (0.427, 3.82), (0.395, 3.73), (0.525, 3.73),
    (0.696, 3.45), (0.749, 3.49), (0.798, 3.59), (0.838, 3.77), (0.419, 3.27),
    (0.496, 3.27), (0.59, 3.27), (0.659, 3.31), (0.79, 3.36), (1.004, 5.6),
    (1.013, 5.63), (1.03, 4.76), (1.076, 4.35), (1.076, 4.13), (0.993, 3.82),
    (0.963, 3.56), (1.038, 3.9), (1.127, 3.75), (1.134, 3.45), (1.259, 4.18),
    (1.289, 4.89), (0.918, 4.73), (0.916, 4.21), (0.92, 3.49), (0.981, 3.3),
    (1.026, 3.23), (0.794, 5.98), (0.647, 3.15), (0.707, 3.23), (0.81, 3.03),
    (0.936, 3.15), (0.932, 3.59), (0.928, 3.87), (0.92, 4.18), (0.977, 3.31),
    (1.022, 3.23), (1.038, 3.93), (0.769, 3.07), (0.761, 2.92), (0.716, 2.66),
]

# lower limits at the high-redshift edge of SPTpol 500d
sptpol_lim_z = [1.60, 1.60, 1.60, 1.60, 1.60, 1.60, 1.60, 1.60]
sptpol_lim_m = [2.80, 2.57, 2.04, 1.88, 1.79, 1.74, 1.69, 1.59]

# =====================================
# Flatten columns
# =====================================

def flatten(cols):
    zs, ms = [], []
    for z, vals in cols:
        zs += [z] * len(vals)
        ms += vals
    return np.array(zs), np.array(ms)

planck_z, planck_m = flatten(planck_cols)
act_z, act_m = flatten(act_cols + act_fill_cols)
spt_z, spt_m = flatten(spt_cols)
spt_z = np.concatenate([spt_z, np.array(spt_extra)[:, 0]])
spt_m = np.concatenate([spt_m, np.array(spt_extra)[:, 1]])
pol_z, pol_m = flatten(sptpol_cols)
pol_z = np.concatenate([pol_z, np.array(sptpol_extra)[:, 0]])
pol_m = np.concatenate([pol_m, np.array(sptpol_extra)[:, 1]])

c_planck = "#d55e00"
c_act = "#e69f00"
c_spt = "#0072b2"
c_pol = "#009e73"

# =====================================
# Plot
# =====================================

fig = plt.figure(figsize=(9.68, 4.87), dpi=100)
ax = fig.add_axes([0.0888, 0.152, 0.8905, 0.823])

ax.scatter(planck_z, planck_m, marker="D", s=12, color=c_planck, linewidths=0, zorder=1)
ax.scatter(act_z, act_m, marker="s", s=12, color=c_act, alpha=0.6, linewidths=0, zorder=2)
ax.scatter(spt_z, spt_m, marker="h", s=24, color=c_spt, linewidths=0, zorder=3)
ax.scatter(pol_z, pol_m, marker="o", s=28, color=c_pol, linewidths=0, zorder=4)
ax.scatter(sptpol_lim_z, sptpol_lim_m, marker=">", s=28, color=c_pol, linewidths=0, zorder=4)

ax.set_yscale("log")
ax.set_xlim(-0.083, 2.022)
ax.set_ylim(0.89, 19.9)
ax.set_xticks([0.0, 0.25, 0.5, 0.75, 1.0, 1.25, 1.5, 1.75, 2.0])
ax.set_xticklabels(["0.00", "0.25", "0.50", "0.75", "1.00", "1.25", "1.50", "1.75", "2.00"])
ax.yaxis.set_minor_formatter(NullFormatter())
ax.tick_params(axis="both", which="major", labelsize=12, length=4)
ax.tick_params(axis="both", which="minor", length=2.5)

ax.set_xlabel("Redshift", fontsize=19)
ax.set_ylabel(r"$\mathrm{M}_{500c}\ (10^{14}\ \mathrm{M}_{\odot}/\mathrm{h}_{70})$", fontsize=18.5)
ax.yaxis.set_label_coords(-0.052, 0.525)

handles = [
    Line2D([], [], marker="D", ls="none", color=c_planck, ms=8),
    Line2D([], [], marker="s", ls="none", color=c_act, ms=8),
    Line2D([], [], marker="h", ls="none", color=c_spt, ms=9),
    Line2D([], [], marker="o", ls="none", color=c_pol, ms=9),
]
ax.legend(handles, ["Planck", "ACT", "SPT-SZ/SPTpol ECS", "SPTpol 500d"],
          loc="upper right", bbox_to_anchor=(0.9826, 0.980), borderaxespad=0,
          fontsize=13.8, handletextpad=0.8, borderpad=0.5, labelspacing=0.45)

fig.savefig("out.png", dpi=100)
